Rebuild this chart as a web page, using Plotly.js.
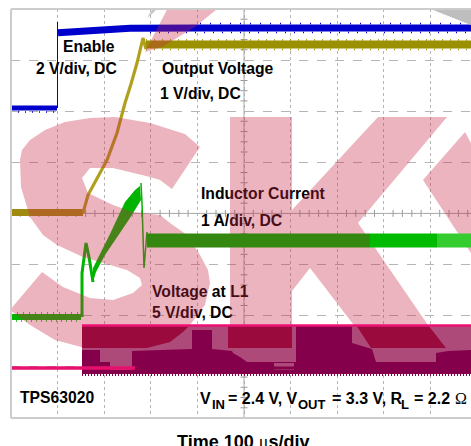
<!DOCTYPE html>
<html><head><meta charset="utf-8">
<script src="https://cdn.plot.ly/plotly-3.0.1.min.js"></script>
<style>html,body{margin:0;padding:0;background:#fff;overflow:hidden}#c{width:471px;height:446px}</style>
</head><body><div id="c"></div><script>
// Axes are in screen-grid readings of the oscilloscope picture
const gridX=[57.6,104.2,150.8,197.4,244,290.6,337.2,383.8,430.4];
const gridY=[60,111.1,162.3,213.4,264.6,315.7,366.9];
const centerTicksX=[20.3,29.6,38.9,48.3,66.9,76.2,85.6,94.9,113.5,122.8,132.2,141.5,160.1,169.4,178.8,188.1,206.7,216,225.4,234.7,253.3,262.6,272,281.3,299.9,309.2,318.6,327.9,346.5,355.8,365.2,374.5,393.1,402.4,411.8,421.1,439.7,449,458.4,467.7];
const centerTicksY=[19.2,29.4,39.6,49.8,70.2,80.5,90.7,100.9,121.3,131.6,141.8,152,172.5,182.7,192.9,203.2,223.6,233.8,244.1,254.3,274.8,285,295.2,305.5,325.9,336.1,346.4,356.6,377.1,387.3,397.5,407.8];

const enableLowX=[11,57],enableLowY=[108,108];
const enableStepX=[57.5,57.5],enableStepY=[108,22];
const enableHighX=[58,90,130,200,300,471],enableHighY=[32.7,31,28.3,28,28,28];

const voutLowX=[11,83],voutLowY=[212.5,212.5];
const voutRampX=[83,85,88,94,100,107,117,125,131,137,143,146],voutRampY=[213,205,195,184,173,160,133,103,84,63,38,49];
const voutHighX=[146,200,300,471],voutHighY=[44.5,44.5,44.5,44.5];

const ilLowX=[11,81],ilLowY=[317,317];
const ilStartX=[82,82,86,89,93],ilStartY=[317,273,243,257,282];
const ilBandX=[93,93,110,125,135,140,141,130,105,96],ilBandY=[282,268,234,202,190,186,200,218,255,272];
const ilDropX=[141,142,144,147],ilDropY=[183,203,268,232];
const ilHighDarkX=[147,370],ilHighDarkY=[240.5,240.5];
const ilHighBrightX=[370,437],ilHighBrightY=[240.5,240.5];
const ilHighLightX=[437,471],ilHighLightY=[240.5,240.5];

const swX=[200,172,160,150,113,90,82,88,113,133,160,170,187,200,208,210,205,190,170,145,115,85,55,30,10,42,63,90,113,133,142,140,127,100,83,57,43,30,21,20,22,30,45,65,90,115,150,185];
const swY=[147,189,180,177,168,168,178,193,205,212,215,223,235,255,270,283,305,325,340,347,350,348,340,325,310,272,287,298,300,293,285,278,270,262,257,245,235,217,187,160,150,140,130,122,118,117,123,134];
const kwX=[230,292,292,378,447,358,445,373,310,292,292,230];
const kwY=[117,117,210,117,117,223,350,350,268,291,350,350];
const ywX=[465,423,471,471],ywY=[132,180,253,143];
const topwX=[145,172,228,195,162],topwY=[52,0,0,27,47];
const gray1X=[147,158,166,152],gray1Y=[18,0,0,14];
const gray2X=[408,471,471],gray2Y=[0,0,25];

const swL1BaseX=[82,471,471,82],swL1BaseY=[325,325,362,362];
const swL1S_X=[82,190,183,170,147,82],swL1S_Y=[325,325,332,342,348,348];
const swL1K1X=[228,292,292,228],swL1K1Y=[325,325,348,348];
const swL1K2X=[356,428,446,371],swL1K2Y=[325,325,348,348];
const swL1DarkX=[82,100,100,132,132,192,192,212,212,232,233,240,247,296,296,352,352,372,376,436,436,448,471,471,82];
const swL1DarkY=[350,350,362,362,351,349,330,330,349,351,353,357,362,362,325,325,343,349,362,362,353,351,350,374,374];
const lightPatch1X=[110,132,132,110],lightPatch1Y=[362,362,370,370];
const lightPatch2X=[274,294,294,274],lightPatch2Y=[363,363,370,370];
const l1TopX=[82,471],l1TopY=[325.5,325.5];
const l1LowX=[11,135],l1LowY=[368,368];
const l1EdgeX=[82,471],l1EdgeY=[375,375];

const BLUE='#0000cc',OLIVE='#9a9000',GREEN='#00b400';
const F='"Liberation Sans",Arial,sans-serif';
function line(x,y,c,w,dash){return {x,y,mode:'lines',line:{color:c,width:w,dash:dash||'solid'},hoverinfo:'skip'};}
function poly(x,y,c){return {x,y,mode:'lines',fill:'toself',fillcolor:c,line:{width:0,color:c},hoverinfo:'skip'};}
function label(x,y,t,s,fam,w){return {x:[x],y:[y],mode:'text',text:[t],textposition:'middle right',textfont:{family:fam||F,size:s||15.7,color:'#000',weight:w||700},hoverinfo:'skip',cliponaxis:false};}
const MU='<span style="font-family:\'Liberation Serif\',serif;font-weight:400">μ</span>';

const data=[
 {x:centerTicksX,y:centerTicksX.map(()=>213.4),mode:'markers',marker:{symbol:'line-ns',size:5,line:{color:'#999',width:1}},hoverinfo:'skip'},
 {x:centerTicksY.map(()=>244),y:centerTicksY,mode:'markers',marker:{symbol:'line-ew',size:5,line:{color:'#999',width:1}},hoverinfo:'skip'},
 line([11,471],[213.4,213.4],'#aaa',1),
 line([244,244],[9,418],'#aaa',1),
 line(enableLowX,enableLowY,BLUE,5),
 line(enableLowX,[112,112],BLUE,1.5,'1px,6px'),
 line(enableStepX,enableStepY,BLUE,1),
 line(enableHighX,enableHighY,BLUE,7),
 line([200,471],[23.5,23.5],BLUE,1.5,'1px,9px'),
 line([150,471],[32.5,32.5],BLUE,1.5,'1px,8px'),
 line(voutLowX,voutLowY,'#a08a10',7),
 line(voutRampX,voutRampY,'#b0a020',3.2),
 line(voutHighX,voutHighY,OLIVE,8),
 line([146,471],[40,40],OLIVE,1.5,'1px,7px'),
 line([146,471],[49.5,49.5],OLIVE,1.5,'1px,7px'),
 line(ilLowX,ilLowY,GREEN,6),
 line(ilLowX,[313,313],GREEN,1.5,'1px,5px'),
 line(ilLowX,[321,321],GREEN,1.5,'1px,4px'),
 line(ilStartX,ilStartY,GREEN,3),
 poly(ilBandX,ilBandY,GREEN),
 line(ilDropX,ilDropY,GREEN,1.5),
 label(63,48.5,'Enable'),
 label(36,70.5,'2 V/div, DC'),
 label(162,70.5,'Output Voltage'),
 label(160,95.5,'1 V/div, DC'),
 label(201,195.5,'Inductor Current'),
 label(201,222.5,'1 A/div, DC'),
 label(152,293.5,'Voltage at L1'),
 label(152,314.5,'5 V/div, DC'),
 label(20,399.5,'TPS63020'),
 label(200,400,'V',16),
 label(212,406,'IN',13),
 label(228,400,'= 2.4 V, V',16),
 label(298,406,'OUT',13),
 label(332,400,'= 3.3 V, R',16),
 label(401,406,'L',13),
 label(414,400,'= 2.2',16),
 label(455,400,'Ω',16,'"Liberation Serif",serif',400),
 poly(gray1X,gray1Y,'rgba(190,190,190,0.85)'),
 poly(gray2X,gray2Y,'rgba(190,190,190,1)'),
 poly(swX,swY,'rgba(200,40,70,0.35)'),
 poly(kwX,kwY,'rgba(200,40,70,0.35)'),
 poly(ywX,ywY,'rgba(200,40,70,0.35)'),
 poly(topwX,topwY,'rgba(200,40,70,0.35)'),
 line(ilHighDarkX,ilHighDarkY,'#35880f',14),
 line(ilHighBrightX,ilHighBrightY,'#00bb00',14),
 line(ilHighLightX,ilHighLightY,'#35cc30',14),
 poly(swL1BaseX,swL1BaseY,'#ad4a7a'),
 poly(swL1S_X,swL1S_Y,'#9b0a3c'),
 poly(swL1K1X,swL1K1Y,'#9b0a3c'),
 poly(swL1K2X,swL1K2Y,'#9b0a3c'),
 poly(swL1DarkX,swL1DarkY,'#85004a'),
 poly(lightPatch1X,lightPatch1Y,'#ad4a7a'),
 poly(lightPatch2X,lightPatch2Y,'#ad4a7a'),
 line(l1LowX,l1LowY,'#e8106e',3.5),
 line([135,471],[368,368],'#85004a',3),
 line(l1TopX,l1TopY,'#ee1074',2.5),
 line(l1EdgeX,l1EdgeY,'#85004a',2,'1px,2px')
];

const layout={
 width:471,height:446,margin:{l:11,r:0,t:9,b:28},
 paper_bgcolor:'#fff',plot_bgcolor:'#fff',showlegend:false,
 xaxis:{range:[11,471],tickmode:'array',tickvals:gridX,showticklabels:false,ticks:'',showgrid:true,gridcolor:'#b5b5b5',griddash:'dot',gridwidth:1,zeroline:false,showline:false},
 yaxis:{range:[418,9],tickmode:'array',tickvals:gridY,showticklabels:false,ticks:'',showgrid:true,gridcolor:'#b5b5b5',griddash:'dash',gridwidth:1,zeroline:false,showline:false},
 annotations:[{xref:'paper',yref:'paper',x:0.504,y:-0.0587,xanchor:'center',yanchor:'middle',showarrow:false,text:'Time 100 '+MU+'s/div',font:{family:F,size:18,color:'#000',weight:700}}],
 shapes:[
  {type:'line',xref:'paper',yref:'paper',x0:0,x1:1,y0:1,y1:1,line:{color:'#ccc',width:2}},
  {type:'line',xref:'paper',yref:'paper',x0:0,x1:0,y0:0,y1:1,line:{color:'#ccc',width:2}},
  {type:'line',xref:'paper',yref:'paper',x0:0,x1:1,y0:0,y1:0,line:{color:'#ccc',width:2}}
 ]
};
Plotly.newPlot('c',data,layout,{displayModeBar:false,staticPlot:true});
</script></body></html>
